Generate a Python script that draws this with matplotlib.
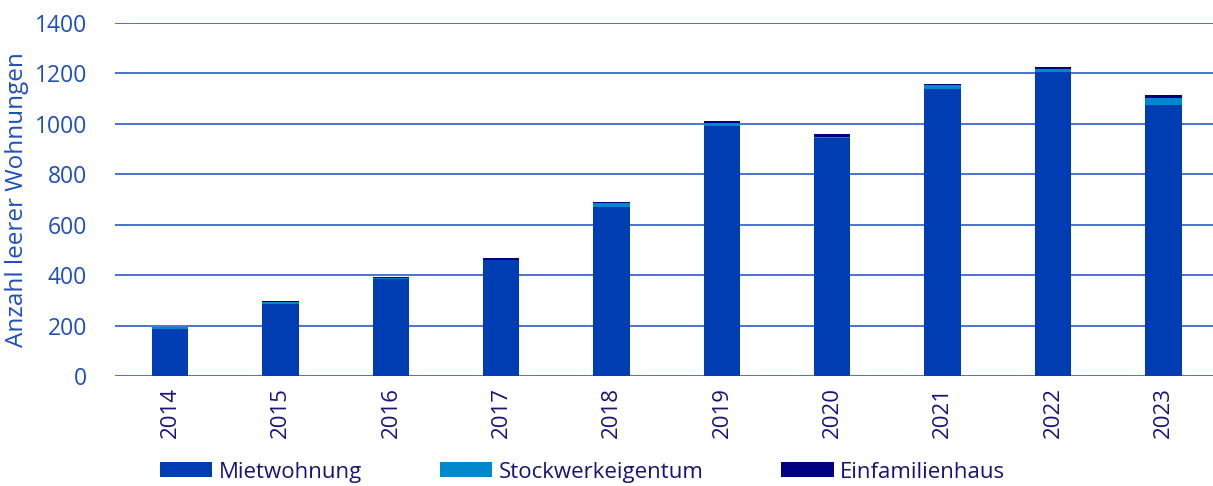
import matplotlib
matplotlib.use("Agg")
import matplotlib.pyplot as plt
import numpy as np

years = ["2014", "2015", "2016", "2017", "2018", "2019", "2020", "2021", "2022", "2023"]
miet = [185, 286, 383, 460, 669, 993, 945, 1140, 1206, 1076]
stock = [9, 9, 7, 2, 16, 9, 3, 13, 12, 28]
efh = [1, 2, 1, 5, 5, 11, 11, 5, 6, 9]
series_names = ["Mietwohnung", "Stockwerkeigentum", "Einfamilienhaus"]
colors = ["#003DB3", "#0088CC", "#000080"]

plt.rcParams['font.family'] = ['Open Sans', 'DejaVu Sans']

W, H = 1213, 486
fig = plt.figure(figsize=(W/100, H/100), dpi=100)
ax = fig.add_axes([115/W, 110/H, (1218.5-115)/W, 353/H])

x = np.arange(len(years))
bw = 0.33
b1 = ax.bar(x, miet, bw, color=colors[0], label=series_names[0], zorder=3)
bottom2 = np.array(miet)
b2 = ax.bar(x, stock, bw, bottom=bottom2, color=colors[1], label=series_names[1], zorder=3)
bottom3 = bottom2 + np.array(stock)
b3 = ax.bar(x, efh, bw, bottom=bottom3, color=colors[2], label=series_names[2], zorder=3)

ax.set_xlim(-0.5, len(years) - 0.5)
ax.set_ylim(0, 1400)
ax.set_yticks(np.arange(0, 1401, 200))
ax.yaxis.grid(True, color="#2E5BC8", linewidth=1.2, zorder=0)
ax.set_axisbelow(True)
for s in ax.spines.values():
    s.set_visible(False)
ax.tick_params(axis='y', length=0, pad=20, labelsize=16.5, labelcolor="#1F4FBF")
ax.tick_params(axis='x', length=0, pad=8, labelsize=16, labelcolor="#14147A")
ax.set_xticks(x)
ax.set_xticklabels(years, rotation=90)
ax.set_ylabel("Anzahl leerer Wohnungen", color="#1F4FBF", fontsize=17.5, labelpad=4)

leg = fig.legend(handles=[b1, b2, b3], labels=series_names, loc="center left",
                 bbox_to_anchor=(160/W, 1 - 472/H), ncol=3, frameon=False,
                 fontsize=16, handlelength=2.35, handleheight=0.65, handletextpad=0.3,
                 columnspacing=3.5, borderaxespad=0, borderpad=0)
for t in leg.get_texts():
    t.set_color("#14147A")

fig.savefig("out.png", dpi=100)
